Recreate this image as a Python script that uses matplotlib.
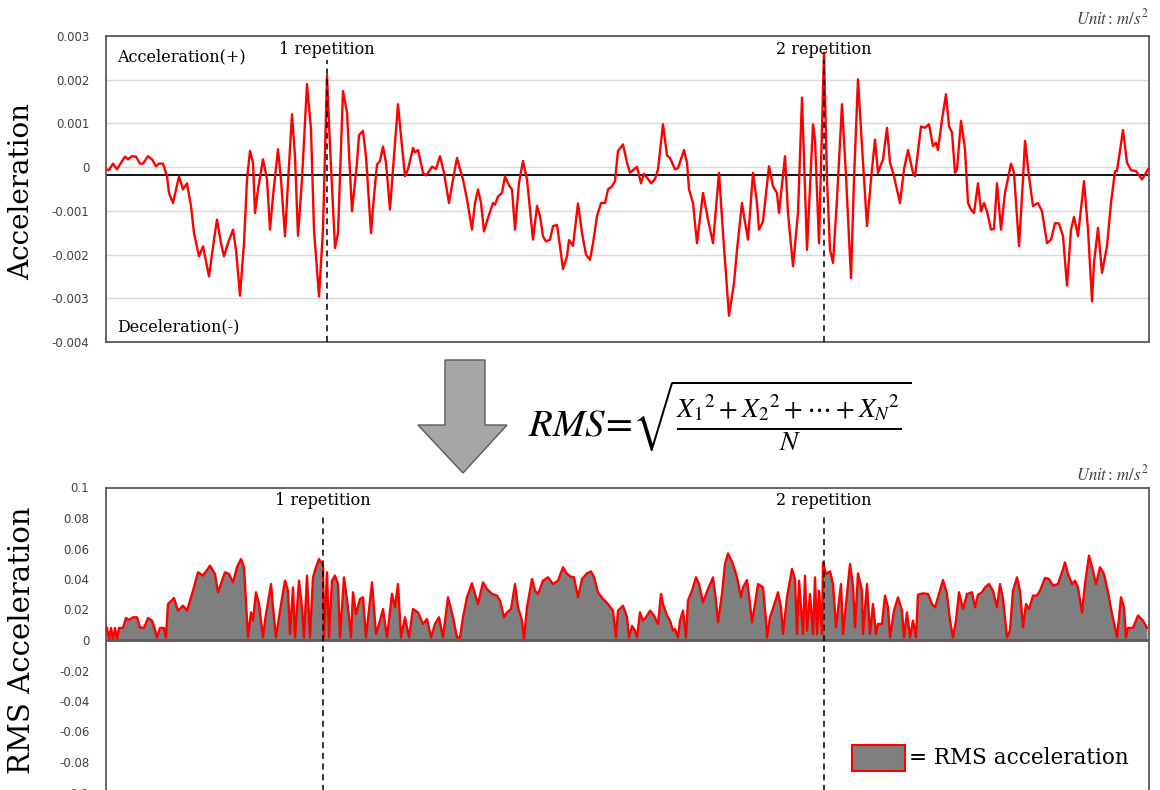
import numpy as np
import matplotlib
matplotlib.use('Agg')
import matplotlib.pyplot as plt
from matplotlib.patches import Rectangle, Polygon
from matplotlib.ticker import FuncFormatter

# raw acceleration signal: sample index and value (unit 0.001 m/s^2)
acc_t = [0, 3, 7, 11, 15, 19, 22, 26, 30, 34,
         37, 42, 46, 50, 53, 57, 61, 63, 67, 71,
         73, 77, 81, 85, 88, 93, 97, 103, 108, 111,
         115, 118, 122, 127, 130, 134, 138, 141, 144, 147,
         149, 152, 157, 161, 164, 167, 172, 175, 179, 182,
         186, 189, 192, 196, 201, 205, 208, 213, 217, 221,
         224, 229, 232, 237, 241, 246, 251, 253, 257,
         260, 265, 268, 271, 274, 277, 280, 284, 287, 292,
         295, 299, 302, 307, 309, 312, 317, 320, 322, 326,
         330, 334, 338, 343, 347, 351, 354, 357, 361, 366,
         369, 372, 375, 378, 382, 387, 389, 392, 396, 399,
         403, 406, 409, 413, 417, 421, 427, 431, 434, 437,
         440, 444, 447, 451, 454, 457, 461, 463, 467, 472,
         476, 480, 484, 487, 491, 495, 499, 502, 506, 509,
         512, 517,
         521, 524, 528, 531, 535, 538, 541, 545, 549, 552,
         557, 561, 564, 569, 572, 578, 581, 583, 587, 591,
         597, 602, 607, 613, 617, 623, 628, 631, 636, 638,
         642, 647, 651, 653, 657, 663, 667, 671, 673, 679,
         682, 687, 692, 696, 701, 707, 709, 713, 718, 721,
         724, 727, 731, 736, 740, 745, 748, 752, 756, 761,
         765, 769, 772, 777, 781,
         784, 788, 794, 798, 802, 807, 809, 815, 819, 823,
         827, 830, 832, 836, 840, 843, 846, 849, 851, 855,
         859, 862, 865, 868, 872, 875, 878, 881, 885, 888,
         891, 895, 899, 905, 908, 913, 917, 919, 923, 927,
         932, 936, 941, 945, 949, 953, 957, 961, 965, 968,
         972, 978, 982, 986, 988, 992, 996, 1001, 1005, 1009,
         1011, 1017, 1021, 1025, 1030, 1036, 1039, 1042]
acc_milli = [-0.05, -0.07, 0.08, -0.05, 0.10, 0.24, 0.18, 0.25, 0.24, 0.08,
             0.08, 0.25, 0.18, 0.02, 0.08, 0.08, -0.21, -0.59, -0.82, -0.42,
             -0.21, -0.51, -0.37, -0.89, -1.51, -2.04, -1.81, -2.50, -1.66, -1.20,
             -1.74, -2.04, -1.74, -1.43, -1.89, -2.94, -1.74, -0.28, 0.37, 0.10,
             -1.05, -0.51, 0.18, -0.28, -1.43, -0.67, 0.41, -0.28, -1.58, -0.36,
             1.21, 0.25, -1.57, -0.28, 1.90, 0.86, -1.43, -2.96, -1.43, 2.09,
             0.48, -1.85, -1.51, 1.74, 1.25, -1.01, 0.10, 0.73, 0.83,
             0.25, -1.51, -0.67, 0.06, 0.14, 0.47, 0.10, -0.97, -0.05, 1.44,
             0.71, -0.21, -0.05, 0.44, 0.34, 0.39, -0.13, -0.19, -0.13, 0.01,
             -0.04, 0.25, -0.13, -0.82, -0.28, 0.21, -0.05, -0.28, -0.74, -1.43,
             -0.82, -0.51, -0.82, -1.47, -1.16, -0.82, -0.86, -0.67, -0.59, -0.21,
             -0.42, -0.51, -1.43, -0.36, 0.14, -0.28, -1.66, -0.89, -1.12, -1.58,
             -1.70, -1.66, -1.35, -1.32, -1.81, -2.33, -2.04, -1.67, -1.80, -0.83,
             -1.51, -2.00, -2.12, -1.74, -1.12, -0.82, -0.82, -0.51, -0.44, -0.32,
             0.37, 0.52,
             0.10, -0.13, -0.05, 0.01, -0.37, -0.15, -0.24, -0.37, -0.27, -0.05,
             0.98, 0.27, 0.21, -0.05, -0.02, 0.39, 0.10, -0.51, -0.82, -1.74,
             -0.59, -1.20, -1.74, -0.13, -1.51, -3.40, -2.65, -1.89, -0.82, -1.12,
             -1.66, -0.13, -0.82, -1.43, -1.24, 0.02, -0.44, -0.59, -1.05, 0.25,
             -1.05, -2.27, -1.05, 1.59, -1.89, 0.98, 0.63, -1.74, 2.62, -0.28,
             -1.89, -2.19, -0.74, 1.44, -0.21, -2.54, -0.28, 2.01, 0.48, -1.35,
             -0.28, 0.63, -0.13, 0.18, 0.90,
             0.10, -0.21, -0.82, -0.05, 0.39, -0.13, -0.21, 0.93, 0.90, 0.98,
             0.48, 0.56, 0.39, 1.09, 1.67, 0.94, 0.79, -0.13, -0.05, 1.06,
             0.41, -0.82, -0.97, -1.05, -0.37, -1.01, -0.82, -1.01, -1.43, -1.41,
             -0.37, -1.43, -0.59, 0.08, -0.13, -1.81, -0.28, 0.60, -0.21, -0.89,
             -0.82, -1.01, -1.74, -1.66, -1.28, -1.29, -1.58, -2.71, -1.43, -1.14,
             -1.58, -0.32, -1.43, -3.07, -2.19, -1.39, -2.42, -1.81, -0.82, -0.09,
             -0.09, 0.85, 0.10, -0.07, -0.09, -0.28, -0.17, -0.05]

# RMS acceleration: sample index and value (unit 0.01 m/s^2)
rms_t = [1, 3, 5, 7, 9, 11, 13, 17, 20, 23,
         27, 31, 34, 38, 42, 46, 49, 51, 54, 58,
         60, 62, 68, 72, 77, 81, 87, 92, 97, 104,
         109, 112, 119, 123, 127, 131, 135, 138, 141, 142,
         145, 147, 150, 153, 157, 159, 165, 167, 170, 174,
         179, 182, 184, 187, 189, 193, 196, 198, 201, 204,
         207, 210, 213, 217, 218, 221, 223, 226, 229, 232,
         234, 238, 242, 245, 247, 250, 254, 257, 260, 266,
         270, 274, 277, 281, 286, 289, 292, 295, 299, 303,
         307, 312, 317, 321, 325, 329, 333, 337, 342, 347,
         351,
         354, 357, 361, 366, 369, 372, 377, 381, 386, 391,
         394, 398, 401, 405, 409, 412, 416, 418, 421, 426,
         429, 432, 437, 442, 447, 452, 457, 461, 465, 468,
         472, 476, 481, 485, 488, 492, 497, 502, 507, 510,
         512, 517, 521, 523, 526, 529, 531, 534, 537, 540,
         544, 548, 552, 555, 557, 561, 564, 567, 569, 572,
         574, 577, 580, 582, 586, 590, 593, 597, 602, 607,
         610, 612, 616, 619, 622, 627, 631, 635, 637, 641,
         644, 646, 649, 652, 657, 660, 661, 664, 669, 672,
         675, 677, 681, 686, 689, 691, 693,
         697, 699, 701, 704, 707, 709, 711, 713, 716, 717,
         720, 724, 727, 730, 735, 737, 740, 744, 747, 749,
         752, 756, 757, 761, 764, 767, 770, 772, 776, 779,
         782, 784, 788, 792, 796, 798, 801, 804, 807, 810,
         812, 817, 822, 826, 829, 832, 837, 841, 844, 847,
         850, 853, 857, 861, 866, 869, 872, 876, 879, 883,
         887, 891, 894, 897, 901, 904, 907, 911, 914, 917,
         920, 923, 927, 931, 934, 939, 943, 947, 952, 956,
         959, 962, 966, 969, 972, 976, 979, 983, 987, 990,
         994, 998, 1002, 1006, 1009, 1011, 1015, 1018, 1020, 1022,
         1027, 1032, 1037, 1041]
rms_centi = [0.79, 0.04, 0.79, 0.04, 0.79, 0.04, 0.79, 0.79, 1.44, 1.31,
             1.49, 1.49, 0.83, 0.79, 1.44, 1.27, 0.66, 0.17, 0.79, 0.79,
             0.17, 2.36, 2.75, 1.92, 2.25, 1.92, 3.23, 4.44, 4.22, 4.87,
             4.33, 3.13, 4.44, 4.33, 3.78, 4.77, 5.31, 4.77, 1.27, 0.17,
             1.81, 1.27, 3.13, 2.36, 0.17, 1.27, 3.67, 2.14, 0.17, 1.92,
             3.89, 3.23, 0.39, 3.45, 0.17, 3.89, 2.14, 0.17, 4.22, 0.17,
             4.11, 4.77, 5.31, 4.87, 0.17, 4.44, 0.17, 3.89, 4.22, 3.67,
             0.17, 4.11, 2.14, 0.17, 3.13, 1.70, 2.69, 2.80, 0.17, 3.78,
             0.39, 1.27, 2.03, 0.17, 3.02, 2.14, 3.67, 0.17, 1.49, 0.17,
             2.03, 1.81, 1.05, 1.38, 0.17, 1.05, 1.49, 0.17, 2.80, 1.49,
             0.17,
             0.17, 1.49, 2.80, 3.72, 3.02, 2.36, 3.78, 3.34, 3.02, 2.91,
             2.58, 1.49, 1.81, 2.03, 3.67, 2.14, 1.27, 0.06, 2.14, 4.00,
             3.23, 3.02, 3.89, 4.11, 3.67, 3.89, 4.77, 4.33, 4.15, 4.11,
             2.80, 4.00, 4.37, 4.50, 4.11, 3.13, 2.69, 2.36, 1.92, 0.17,
             1.92, 2.25, 1.49, 0.17, 0.92, 0.61, 0.17, 1.81, 1.27, 1.49,
             1.92, 1.60, 1.05, 3.02, 2.36, 1.60, 1.27, 0.61, 0.72, 0.17,
             1.27, 1.92, 0.17, 2.58, 3.23, 4.11, 3.67, 2.47, 3.34, 4.11,
             2.58, 1.16, 3.02, 4.98, 5.68, 4.98, 4.11, 2.80, 3.45, 3.93,
             2.36, 1.16, 2.36, 3.67, 3.45, 1.27, 0.17, 1.49, 2.47, 3.13,
             2.14, 0.39, 2.80, 4.66, 4.00, 0.39, 3.89,
             0.39, 4.22, 0.61, 3.02, 0.39, 4.11, 0.39, 3.23, 0.39, 5.09,
             4.33, 4.50, 3.67, 0.83, 3.67, 0.39, 2.36, 4.98, 3.56, 0.83,
             4.37, 3.23, 0.39, 3.67, 0.39, 2.36, 0.39, 1.05, 1.05, 2.91,
             2.14, 0.17, 1.92, 2.80, 1.92, 0.17, 1.81, 0.17, 1.27, 0.17,
             2.97, 3.06, 3.02, 2.36, 2.14, 2.80, 3.93, 3.02, 1.27, 0.17,
             1.27, 3.13, 2.03, 3.02, 3.13, 2.14, 2.97, 3.13, 3.45, 3.67,
             3.23, 2.14, 3.67, 2.69, 0.17, 0.61, 3.23, 4.11, 3.23, 0.83,
             2.36, 2.03, 2.91, 2.91, 3.23, 4.07, 4.00, 3.56, 3.67, 4.44,
             5.09, 4.33, 3.67, 3.89, 3.45, 1.81, 3.67, 5.53, 4.55, 3.67,
             4.77, 4.33, 3.13, 1.70, 0.83, 0.17, 2.80, 2.14, 0.17, 0.79,
             0.79, 1.60, 1.27, 0.79]

rep_top = [221, 718]      # repetition markers, upper panel
rep_bottom = [217, 718]   # repetition markers, lower panel
rep_labels = ['1 repetition', '2 repetition']
baseline_top = -0.00018   # level of the black axis line in the upper panel

acc = np.array(acc_milli) * 1e-3
rms = np.array(rms_centi) * 1e-2

plt.rcParams['mathtext.fontset'] = 'stix'
serif = 'DejaVu Serif'

W, H = 1160, 790
fig = plt.figure(figsize=(W / 100, H / 100), dpi=100)

def fx(px):
    return px / W

def fy(py):
    return 1 - py / H

# upper panel: raw acceleration
ax1 = fig.add_axes([fx(106), fy(342), (1149 - 106) / W, (342 - 36) / H])
ax1.plot(acc_t, acc, color='red', lw=1.7, zorder=3, solid_joinstyle='round')
ax1.axhline(baseline_top, color='black', lw=1.3, zorder=2)
ax1.vlines(rep_top, -0.004, 0.00245, colors='black', linestyles=(0, (4, 3)), lw=1.1, zorder=4)
ax1.set_xlim(0, 1043)
ax1.set_ylim(-0.004, 0.003)
ax1.set_yticks(np.arange(-4, 4) * 0.001)
ax1.yaxis.set_major_formatter(FuncFormatter(lambda v, p: '%g' % round(v, 4)))
ax1.yaxis.grid(True, color='#d9d9d9', lw=1)
ax1.set_axisbelow(True)
ax1.set_xticks([])

# lower panel: RMS acceleration (runs past the bottom edge, as in the source)
ax2 = fig.add_axes([fx(106), fy(792.5), (1149 - 106) / W, (792.5 - 487.5) / H])
ax2.fill_between(rms_t, 0, rms, color='#7f7f7f', lw=0, zorder=2)
ax2.plot(rms_t, rms, color='red', lw=1.7, zorder=3, solid_joinstyle='round')
ax2.axhline(0, color='#595959', lw=2, zorder=4)
ax2.vlines(rep_bottom, -0.1, 0.081, colors='black', linestyles=(0, (4, 3)), lw=1.1, zorder=5)
ax2.set_xlim(0, 1043)
ax2.set_ylim(-0.1, 0.1)
ax2.set_yticks(np.arange(-5, 6) * 0.02)
ax2.yaxis.set_major_formatter(FuncFormatter(lambda v, p: '%g' % round(v, 3)))
ax2.set_xticks([])

for ax in (ax1, ax2):
    ax.tick_params(axis='y', length=0, pad=12, labelsize=8.5, labelcolor='#404040')
    for s in ax.spines.values():
        s.set_color('#595959')
        s.set_linewidth(1.3)

# panel annotations
for x, lab in zip(rep_top, rep_labels):
    ax1.text(x, 0.0027, lab, ha='center', va='center', fontsize=11.5, family=serif)
for x, lab in zip(rep_bottom, rep_labels):
    ax2.text(x, 0.0915, lab, ha='center', va='center', fontsize=11.5, family=serif)

fig.text(fx(117), fy(57), 'Acceleration(+)', ha='left', va='center', fontsize=11.5, family=serif)
fig.text(fx(117), fy(327), 'Deceleration(-)', ha='left', va='center', fontsize=11.5, family=serif)
fig.text(fx(1149), fy(18), r'$Unit{:}\,m/s^{2}$', ha='right', va='center', fontsize=12, color='#404040')
fig.text(fx(1149), fy(474), r'$Unit{:}\,m/s^{2}$', ha='right', va='center', fontsize=12, color='#404040')

fig.text(fx(22), fy(192), 'Acceleration', rotation=90, ha='center', va='center', fontsize=20, family=serif)
fig.text(fx(22), fy(640), 'RMS Acceleration', rotation=90, ha='center', va='center', fontsize=21, family=serif)

# arrow between panels
arrow = Polygon([(fx(445), fy(360)), (fx(485), fy(360)), (fx(485), fy(425)), (fx(507), fy(425)),
                 (fx(463), fy(473)), (fx(418), fy(425)), (fx(445), fy(425))],
                closed=True, transform=fig.transFigure, facecolor='#a6a6a6', edgecolor='#595959', lw=1)
fig.patches.append(arrow)

fig.text(fx(720), fy(416), r'$RMS\!=\!\sqrt{\frac{{X_1}^2+{X_2}^2+\cdots+{X_N}^2}{N}}$',
         ha='center', va='center', fontsize=28)

# legend swatch
sw = Rectangle((fx(852), fy(771)), (905 - 852) / W, (771 - 745) / H, transform=fig.transFigure,
               facecolor='#7f7f7f', edgecolor='red', lw=1.5)
fig.patches.append(sw)
fig.text(fx(909), fy(758), '= RMS acceleration', ha='left', va='center', fontsize=15.5, family=serif)

fig.savefig('out.png', dpi=100)
